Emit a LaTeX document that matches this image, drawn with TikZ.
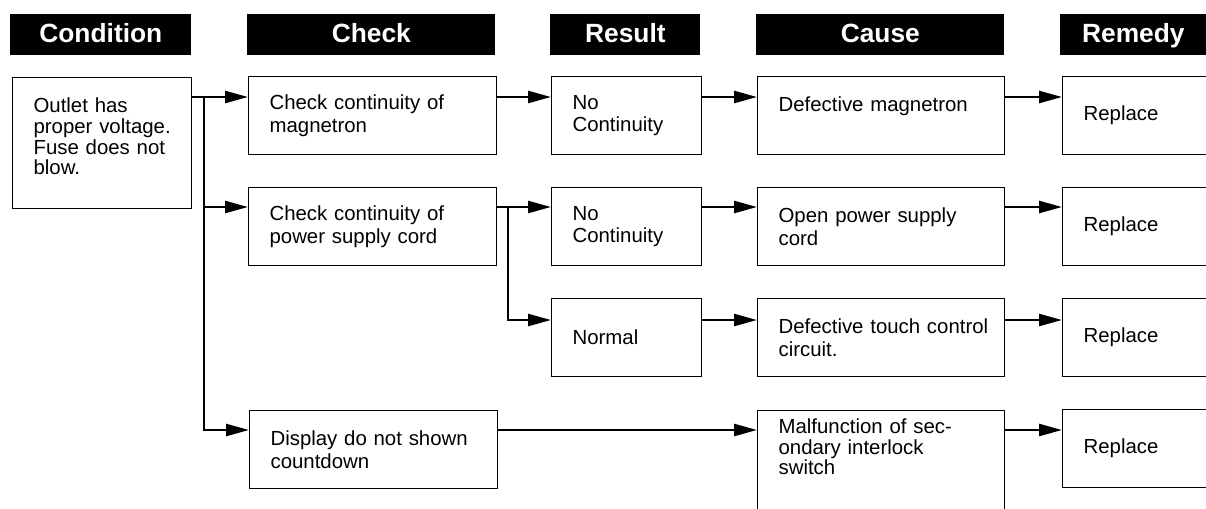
\documentclass[tikz,border=0pt]{standalone}
\usepackage{fontspec}
\setmainfont{Liberation Sans}
\usetikzlibrary{arrows.meta}

\begin{document}
\begin{tikzpicture}[x=0.02cm, y=-0.02cm,
    hdr/.style={fill=black, text=white, font=\fontsize{15}{17}\selectfont\bfseries, anchor=north west, minimum height=0.82cm, inner sep=0pt, text height=0.96em, text depth=0.12em},
    cell/.style={draw, line width=0.7pt, anchor=north west, align=left, font=\fontsize{11.6}{12.8}\selectfont, inner xsep=0.42cm, minimum height=1.56cm,
        execute at begin node={\hyphenpenalty=10000\rightskip=0pt plus 1fil minus 3cm\relax}},
    arr/.style={-{Triangle[length=0.46cm, width=0.24cm]}, line width=1.4pt}]
    \useasboundingbox (0,0) rectangle (1206,508);
    \clip (0,0) rectangle (1206,508);

    % Headers
    \node[hdr, minimum width=3.62cm] (hcond) at (10,14) {Condition};
    \node[hdr, minimum width=4.96cm] (hchk) at (247,14) {Check};
    \node[hdr, minimum width=3.0cm] (hres) at (550,14) {Result};
    \node[hdr, minimum width=4.96cm] (hcau) at (756,14) {Cause};
    \node[hdr, minimum width=2.92cm] (hrem) at (1060,14) {Remedy};

    % Condition
    \node[cell, text width=2.74cm, minimum height=2.62cm, font=\fontsize{11.6}{11.8}\selectfont, text height=0.56cm, text depth=1.78cm] (cond) at (12,77) {Outlet has\\ proper voltage.\\ Fuse does not\\ blow.};

    % Row 1
    \node[cell, text width=4.12cm] (chk1) at (248,76) {Check continuity of\\ magnetron};
    \node[cell, text width=2.16cm] (res1) at (551,76) {No\\ Continuity};
    \node[cell, text width=4.10cm, text depth=0.48cm] (cau1) at (757,76) {Defective magnetron};
    \node[cell, text width=2.22cm] (rem1) at (1062,76) {Replace};

    % Row 2
    \node[cell, text width=4.12cm] (chk2) at (248,187) {Check continuity of\\ power supply cord};
    \node[cell, text width=2.16cm] (res2) at (551,187) {No\\ Continuity};
    \node[cell, text width=4.10cm] (cau2) at (757,187) {Open power supply\\ cord};
    \node[cell, text width=2.22cm] (rem2) at (1062,187) {Replace};

    % Row 3
    \node[cell, text width=2.16cm] (res3) at (551,298) {Normal};
    \node[cell, text width=4.10cm] (cau3) at (757,298) {Defective touch control\\ circuit.};
    \node[cell, text width=2.22cm] (rem3) at (1062,298) {Replace};

    % Row 4
    \node[cell, text width=4.12cm] (chk4) at (249,410) {Display do not shown\\ countdown};
    \node[cell, text width=4.10cm, font=\fontsize{11.6}{11.6}\selectfont, text height=0.35cm, text depth=2cm] (cau4) at (757,410) {Malfunction of sec-\\ ondary interlock\\ switch};
    \node[cell, text width=2.22cm] (rem4) at (1062,409) {Replace};

    % Arrow levels
    \coordinate (r1) at (0,97);
    \coordinate (r2) at (0,207);
    \coordinate (r3) at (0,320);
    \coordinate (r4) at (0,430);
    \coordinate (trunk) at (204,97);
    \coordinate (fork) at (508,207);

    % Arrows
    \draw[arr] (cond.east |- r1) -- (chk1.west |- r1);
    \draw[arr] (trunk) |- (chk2.west |- r2);
    \draw[arr] (trunk) |- (chk4.west |- r4);
    \draw[arr] (chk1.east |- r1) -- (res1.west |- r1);
    \draw[arr] (res1.east |- r1) -- (cau1.west |- r1);
    \draw[arr] (cau1.east |- r1) -- (rem1.west |- r1);
    \draw[arr] (chk2.east |- r2) -- (res2.west |- r2);
    \draw[arr] (fork) |- (res3.west |- r3);
    \draw[arr] (res2.east |- r2) -- (cau2.west |- r2);
    \draw[arr] (cau2.east |- r2) -- (rem2.west |- r2);
    \draw[arr] (res3.east |- r3) -- (cau3.west |- r3);
    \draw[arr] (cau3.east |- r3) -- (rem3.west |- r3);
    \draw[arr] (chk4.east |- r4) -- (cau4.west |- r4);
    \draw[arr] (cau4.east |- r4) -- (rem4.west |- r4);
\end{tikzpicture}
\end{document}
